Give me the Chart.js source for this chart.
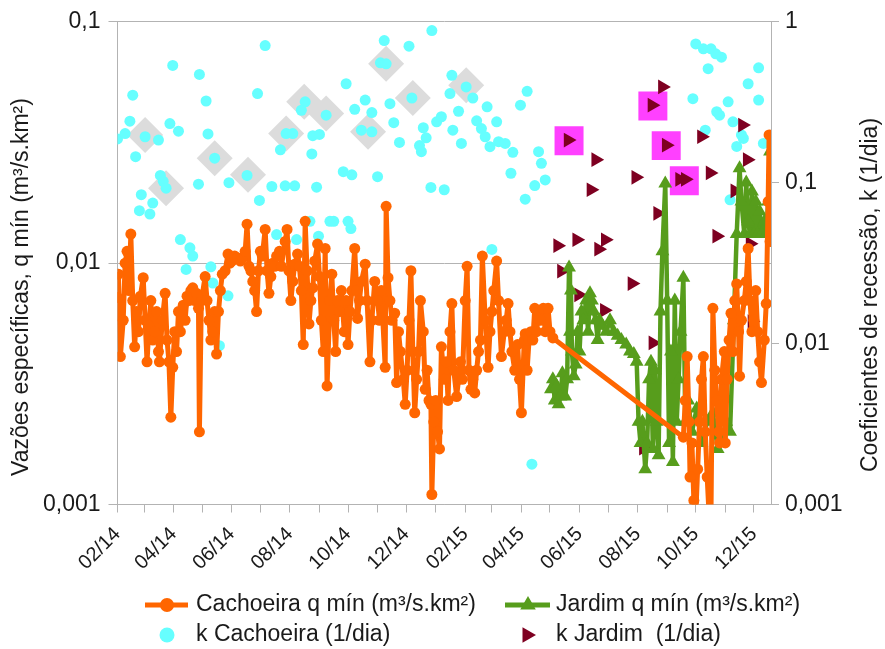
<!DOCTYPE html>
<html>
<head>
<meta charset="utf-8">
<script src="https://cdn.jsdelivr.net/npm/chart.js@4.4.1/dist/chart.umd.min.js"></script>
<style>
  body { margin: 0; background: #fff; }
  #grafico { display: block; }
</style>
</head>
<body>
<canvas id="grafico" width="885" height="649"></canvas>
<script>
// dias contados a partir de 01/02/2014
var cachDias = [0,1,3,6,8,10,12,14,16,18,20,22,24,27,29,31,33,35,37,39,41,43,44,47,50,52,54,56,58,60,
  62,64,66,69,71,73,75,77,79,81,83,85,86,88,92,94,96,98,100,102,104,106,108,110,113,116,118,120,123,126,
  129,131,134,136,138,140,142,144,146,148,150,152,155,157,159,161,163,165,167,170,172,176,178,180,182,184,186,189,191,193,
  195,197,199,201,203,205,207,210,212,214,216,218,220,223,
  225,227,229,231,233,235,238,240,242,244,246,249,251,252,254,256,260,262,265,267,
  270,273,275,277,281,282,284,286,288,291,293,295,297,300,302,304,306,308,310,312,
  314,316,318,321,323,325,327,329,330,332,334,336,338,340,343,345,347,349,351,353,
  356,358,360,362,365,367,369,371,373,375,377,379,381,383,386,389,391,393,395,398,
  400,403,406,408,410,412,414,417,420,422,424,427,428,430,432,434,436,438,440,442,
  444,447,449,452,454,457,594,
  596,598,600,601,603,605,607,609,611,613,615,617,619,621,623,625,627,629,631,632,
  634,637,638,640,642,644,646,648,650,652,653,655,658,660,662,664,666,668,670,672,
  674,676,679,681,683,684,685]
var cachQ = [0.0072,0.0090,0.0041,0.0058,0.0100,0.0112,0.0077,0.0132,0.0070,0.0045,0.0063,0.0052,0.0073,0.0087,0.0058,0.0039,0.0055,0.0070,0.0048,0.0052,
  0.0063,0.0043,0.0039,0.0058,0.0075,0.0048,0.0039,0.0023,0.0037,0.0052,0.0043,0.0063,0.0052,0.0067,0.0058,0.0073,0.0070,0.0077,0.0079,0.0070,
  0.0075,0.0065,0.0020,0.0070,0.0088,0.0070,0.0058,0.0048,0.0052,0.0063,0.0042,0.0063,0.0077,0.0090,0.0093,0.0109,0.0100,0.0102,0.0107,0.0105,
  0.0102,0.0105,0.0112,0.0145,0.0097,0.0093,0.0084,0.0077,0.0063,0.0093,0.0112,0.0107,0.0138,0.0093,0.0075,0.0088,0.0100,0.0097,0.0107,0.0112,
  0.0097,0.0123,0.0138,0.0093,0.0070,0.0084,0.0099,0.0109,0.0097,0.0077,0.0046,0.0149,0.0093,0.0056,0.0070,0.0079,0.0102,0.0120,0.0088,0.0058,
  0.0043,0.0115,0.0031,0.0070,
  0.0090,0.0058,0.0043,0.0070,0.0063,0.0077,0.0052,0.0070,0.0046,0.0063,0.0077,0.0115,0.0077,0.0059,0.0070,0.0084,0.0099,0.0070,0.0039,0.0058,
  0.0084,0.0070,0.0058,0.0077,0.0037,0.0172,0.0087,0.0070,0.0058,0.0062,0.0032,0.0052,0.0043,0.0033,0.0026,0.0036,0.0058,0.0093,0.0043,0.0024,
  0.0033,0.0043,0.0070,0.0052,0.0030,0.0036,0.0027,0.0026,0.0011,0.0022,0.0027,0.0020,0.0017,0.0045,0.0033,0.0039,0.0027,0.0052,0.0068,0.0036,
  0.0028,0.0033,0.0039,0.0033,0.0070,0.0097,0.0036,0.0030,0.0033,0.0029,0.0036,0.0043,0.0048,0.0107,0.0058,0.0037,0.0052,0.0063,0.0077,0.0102,
  0.0070,0.0041,0.0052,0.0058,0.0068,0.0052,0.0043,0.0036,0.0046,0.0033,0.0024,0.0048,0.0051,0.0036,0.0048,0.0052,0.0048,0.0065,0.0052,0.0063,
  0.0058,0.0065,0.0052,0.0065,0.0052,0.0049,0.0019,
  0.0027,0.0041,0.0022,0.0013,0.0018,0.00104,0.0009,0.0014,0.0022,0.0033,0.0041,0.0020,0.0013,0.0009,0.0009,0.0065,0.0036,0.0027,0.0020,0.0018,
  0.0033,0.0043,0.0018,0.0033,0.0048,0.0062,0.0043,0.0070,0.0082,0.0052,0.0034,0.0058,0.0070,0.0084,0.0115,0.0070,0.0052,0.0058,0.0077,0.0052,
  0.0039,0.0032,0.0048,0.0068,0.0180,0.034,0.0123]

var jardDias = [455,457,459,461,463,465,467,470,472,474,475,476,477,479,481,483,485,487,489,492,
  494,496,498,500,502,504,506,509,513,517,521,525,529,534,538,542,545,547,549,551,
  554,556,558,560,562,564,566,568,570,572,575,577,579,581,583,585,587,589,591,594,
  596,599,603,608,613,619,625,630,634,639,643,647,650,653,655,658,660,662,664,666,
  668,670,672,674,676,679,681,683,685]
var jardQ = [0.0030,0.0033,0.0027,0.0031,0.0026,0.0028,0.0035,0.0028,0.0033,0.0096,0.0052,0.0077,0.0043,0.0034,0.0038,0.0052,0.0043,0.0063,0.0058,0.0070,
  0.0052,0.0075,0.0070,0.0063,0.0058,0.0048,0.0058,0.0055,0.0052,0.0058,0.0052,0.0050,0.0048,0.0046,0.0043,0.0042,0.0039,0.0022,0.0018,0.0022,
  0.0014,0.0018,0.0033,0.0039,0.0017,0.0036,0.0022,0.0016,0.0063,0.0112,0.0214,0.0070,0.0018,0.0043,0.0015,0.0070,0.0022,0.0033,0.0052,0.0087,
  0.0022,0.0027,0.0020,0.0025,0.0018,0.0022,0.0024,0.0017,0.0018,0.0022,0.0020,0.0058,0.0132,0.0247,0.0180,0.0132,0.0216,0.0149,0.0132,0.0198,
  0.0132,0.0180,0.0132,0.0164,0.0132,0.0149,0.0132,0.0180,0.029]

var kCachDias = [0,8,13,16,29,19,43,55,64,58,86,93,95,102,45,48,51,25,37,23,34,85,117,136,149,162,176,186,209,147,
  155,171,177,184,197,193,205,212,204,219,66,76,79,72,98,167,188,202,211,223,100,116,107,
  280,306,330,276,282,240,260,249,267,286,309,290,256,267,296,321,324,317,319,335,
  340,351,349,366,373,358,352,361,388,377,382,386,391,398,400,407,415,423,430,442,
  445,449,438,428,413,237,246,273,329,343,227,242,245,393,435,
  607,615,623,628,634,620,673,662,604,641,673,629,632,646,655,657,650,617,678,643,655]
var kCach = [0.187,0.202,0.241,0.350,0.193,0.145,0.184,0.233,0.209,0.536,0.471,0.322,0.201,0.142,0.111,0.102,0.0925,0.0842,0.0747,0.067,
  0.0638,0.0979,0.100,0.111,0.0776,0.0947,0.0957,0.0957,0.0938,0.358,0.712,0.160,0.202,0.202,0.318,0.282,0.196,0.1995,0.151,0.263,
  0.0443,0.0394,0.035,0.0289,0.030,0.0476,0.0443,0.0575,0.0465,0.0575,0.0238,0.0198,0.0097,
  0.765,0.705,0.882,0.556,0.548,0.412,0.326,0.286,0.273,0.310,0.336,0.236,0.212,0.207,0.178,0.2195,0.190,0.170,0.156,0.239,
  0.257,0.465,0.358,0.394,0.336,0.278,0.212,0.1755,0.296,0.2425,0.217,0.193,0.1675,0.239,0.180,0.1755,0.1545,0.303,0.370,0.156,
  0.132,0.104,0.096,0.079,0.1145,0.117,0.112,0.109,0.0934,0.0904,0.0575,0.0575,0.0519,0.0385,0.00178,
  0.729,0.679,0.679,0.632,0.603,0.511,0.518,0.412,0.333,0.318,0.326,0.276,0.263,0.239,0.198,0.1885,0.168,0.212,0.1755,0.0783,0.0765]

var kJardDias = [462,466,473,482,484,497,502,505,512,511,540,544,552,561,562,567,572,576,590,596,613,622,629,648,656,661,664,666]
var kJard = [0.0406,0.0282,0.184,0.0442,0.0201,0.0904,0.139,0.0386,0.0442,0.0161,0.0236,0.108,0.00224,0.303,0.0101,0.0645,0.394,0.171,0.105,0.105,
  0.193,0.115,0.0465,0.089,0.228,0.139,0.0418,0.0137]

// pontos em destaque (sem entrada na legenda)
var destaqueCachDias = [29,51,102,137,177,196,219,263,282,310,366]
var destaqueCachK = [0.198,0.0925,0.1417,0.112,0.202,0.318,0.269,0.207,0.548,0.336,0.403]
var destaqueJardDias = [474,562,576,595]
var destaqueJardK = [0.182,0.300,0.170,0.103]

var rotulosMeses = ['02/14','03/14','04/14','05/14','06/14','07/14','08/14','09/14','10/14','11/14','12/14','01/15',
  '02/15','03/15','04/15','05/15','06/15','07/15','08/15','09/15','10/15','11/15','12/15']
var ticksEsq = [0.001, 0.01, 0.1]
var rotulosEsq = ['0,001', '0,01', '0,1']
var ticksDir = [0.001, 0.01, 0.1, 1]
var rotulosDir = ['0,001', '0,01', '0,1', '1']

var tituloEsq = 'Vazões específicas, q mín (m³/s.km²)'
var tituloDir = 'Coeficientes de recessão, k (1/dia)'
var legendas = ['Cachoeira q mín (m³/s.km²)', 'Jardim q mín (m³/s.km²)', 'k Cachoeira (1/dia)', 'k Jardim  (1/dia)']

var laranja = '#ff6600'
var verde = '#579d1c'
var ciano = '#66ffff'
var vinho = '#7e0021'
var magenta = '#ff40ff'
var cinzaClaro = '#dcdcdc'
var cinza = '#b3b3b3'
var texto = '#1a1a1a'
var familia = "'Liberation Sans', Arial, sans-serif"

var inicio = Date.UTC(2014, 1, 1)
function diaDoRotulo (r) {
  var mes = parseInt(r.slice(0, 2), 10)
  var ano = 2000 + parseInt(r.slice(3), 10)
  return (Date.UTC(ano, mes - 1, 1) - inicio) / 86400000
}

function pares (dias, valores) {
  return dias.map(function (d, i) { return { x: d, y: valores[i] } })
}

function triangulo (ctx, x, y, r, ang) {
  ctx.beginPath()
  for (var i = 0; i < 3; i++) {
    var a = ang + i * 2 * Math.PI / 3
    var px = x + Math.sin(a) * r
    var py = y - Math.cos(a) * r
    if (i === 0) ctx.moveTo(px, py)
    else ctx.lineTo(px, py)
  }
  ctx.closePath()
  ctx.fill()
}

// titulos dos eixos e legenda
var extras = {
  id: 'extras',
  afterDraw: function (chart) {
    var ctx = chart.ctx
    ctx.save()
    ctx.fillStyle = texto
    ctx.font = '23px ' + familia
    ctx.textBaseline = 'middle'
    ctx.textAlign = 'center'

    ctx.save()
    ctx.translate(22, 287)
    ctx.rotate(-Math.PI / 2)
    ctx.fillText(tituloEsq, 0, 0)
    ctx.restore()

    ctx.save()
    ctx.translate(871, 295)
    ctx.rotate(-Math.PI / 2)
    ctx.fillText(tituloDir, 0, 0)
    ctx.restore()

    ctx.textAlign = 'left'
    ctx.fillText(legendas[0], 196, 605)
    ctx.fillText(legendas[1], 556, 605)
    ctx.fillText(legendas[2], 196, 635)
    ctx.fillText(legendas[3], 556, 635)

    ctx.lineWidth = 5
    ctx.strokeStyle = laranja
    ctx.beginPath(); ctx.moveTo(145, 605); ctx.lineTo(188, 605); ctx.stroke()
    ctx.fillStyle = laranja
    ctx.beginPath(); ctx.arc(167, 605, 7, 0, 2 * Math.PI); ctx.fill()

    ctx.strokeStyle = verde
    ctx.beginPath(); ctx.moveTo(505, 605); ctx.lineTo(550, 605); ctx.stroke()
    ctx.fillStyle = verde
    triangulo(ctx, 528, 605, 9, 0)

    ctx.fillStyle = ciano
    ctx.beginPath(); ctx.arc(167, 635, 7.5, 0, 2 * Math.PI); ctx.fill()

    ctx.fillStyle = vinho
    triangulo(ctx, 527, 635, 9, Math.PI / 2)
    ctx.restore()
  }
}

var ctx = document.getElementById('grafico').getContext('2d')

var chart = new Chart(ctx, {
  type: 'line',
  data: {
    datasets: [
      {
        label: legendas[0],
        data: pares(cachDias, cachQ),
        yAxisID: 'y',
        borderColor: laranja,
        backgroundColor: laranja,
        borderWidth: 5,
        borderJoinStyle: 'round',
        borderCapStyle: 'round',
        pointStyle: 'circle',
        pointRadius: 5.5,
        pointBorderWidth: 0,
        tension: 0,
        clip: 0,
        order: 1
      },
      {
        label: legendas[1],
        data: pares(jardDias, jardQ),
        yAxisID: 'y',
        borderColor: verde,
        backgroundColor: verde,
        borderWidth: 4.5,
        borderJoinStyle: 'round',
        borderCapStyle: 'round',
        pointStyle: 'triangle',
        pointRadius: 8,
        pointBorderWidth: 0,
        tension: 0,
        clip: 0,
        order: 2
      },
      {
        label: legendas[3],
        data: pares(kJardDias, kJard),
        yAxisID: 'y1',
        showLine: false,
        backgroundColor: vinho,
        borderColor: vinho,
        pointStyle: 'triangle',
        pointRotation: 90,
        pointRadius: 8.5,
        pointBorderWidth: 0,
        order: 3
      },
      {
        label: legendas[2],
        data: pares(kCachDias, kCach),
        yAxisID: 'y1',
        showLine: false,
        backgroundColor: ciano,
        borderColor: ciano,
        pointStyle: 'circle',
        pointRadius: 5.5,
        pointBorderWidth: 0,
        order: 4
      },
      {
        label: 'destaque Jardim',
        data: pares(destaqueJardDias, destaqueJardK),
        yAxisID: 'y1',
        showLine: false,
        backgroundColor: magenta,
        borderColor: magenta,
        pointStyle: 'rect',
        pointRadius: 20.5,
        pointBorderWidth: 0,
        order: 5
      },
      {
        label: 'destaque Cachoeira',
        data: pares(destaqueCachDias, destaqueCachK),
        yAxisID: 'y1',
        showLine: false,
        backgroundColor: cinzaClaro,
        borderColor: cinzaClaro,
        pointStyle: 'rectRot',
        pointRadius: 18,
        pointBorderWidth: 0,
        order: 6
      }
    ]
  },
  options: {
    responsive: false,
    animation: false,
    devicePixelRatio: 1,
    layout: { padding: { top: 19.5, bottom: 75, left: 0, right: 0 } },
    plugins: {
      legend: { display: false },
      tooltip: { enabled: false }
    },
    scales: {
      x: {
        type: 'linear',
        position: 'bottom',
        min: 0,
        max: 686,
        afterBuildTicks: function (s) {
          s.ticks = rotulosMeses.map(function (r) { return { value: diaDoRotulo(r) } })
        },
        afterFit: function (s) { s.height = 69.5 },
        grid: { drawOnChartArea: false, color: cinza, tickLength: 8 },
        border: { color: cinza },
        ticks: {
          autoSkip: false,
          maxRotation: 45,
          minRotation: 45,
          padding: 10,
          color: texto,
          font: { family: familia, size: 20 },
          callback: function (v, i) { return i % 2 === 0 ? rotulosMeses[i] : '' }
        }
      },
      y: {
        type: 'logarithmic',
        position: 'left',
        min: 0.001,
        max: 0.1,
        afterBuildTicks: function (s) {
          s.ticks = ticksEsq.map(function (v) { return { value: v } })
        },
        afterFit: function (s) { s.width = 117.5 },
        grid: { color: cinza, tickLength: 9 },
        border: { color: cinza },
        ticks: {
          padding: 8,
          color: texto,
          font: { family: familia, size: 23 },
          callback: function (v, i) { return rotulosEsq[i] }
        }
      },
      y1: {
        type: 'logarithmic',
        position: 'right',
        min: 0.001,
        max: 1,
        afterBuildTicks: function (s) {
          s.ticks = ticksDir.map(function (v) { return { value: v } })
        },
        afterFit: function (s) { s.width = 114 },
        grid: { drawOnChartArea: false, color: cinza, tickLength: 8 },
        border: { color: cinza },
        ticks: {
          padding: 6,
          color: texto,
          font: { family: familia, size: 23 },
          callback: function (v, i) { return rotulosDir[i] }
        }
      }
    }
  },
  plugins: [extras]
})
</script>
</body>
</html>
